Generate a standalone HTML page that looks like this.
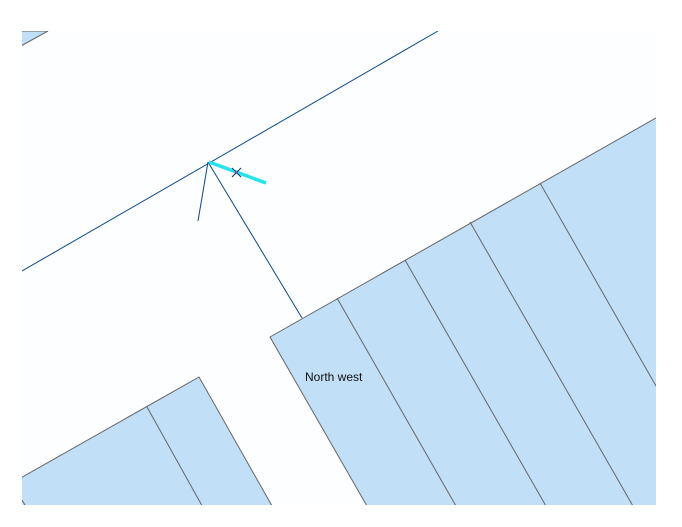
<!DOCTYPE html>
<html><head><meta charset="utf-8"><style>
html,body{margin:0;padding:0;background:#fff;width:682px;height:527px;overflow:hidden}
svg{display:block}
</style></head><body>
<svg width="682" height="527" viewBox="0 0 682 527" xmlns="http://www.w3.org/2000/svg">
<defs><clipPath id="c"><rect x="22" y="31" width="634" height="474"/></clipPath></defs>
<rect x="22" y="31" width="634" height="474" fill="#fdfeff"/>
<g clip-path="url(#c)" stroke="#666" stroke-width="1" fill="#c1dff7">
<polygon points="10,31 48,31 10,52"/>
<polygon points="270,337 670,110 670,520 375,520"/>
<line x1="337" y1="298" x2="464" y2="520"/>
<line x1="405" y1="260" x2="554" y2="520"/>
<line x1="470" y1="222" x2="641" y2="520"/>
<line x1="540" y1="183" x2="656" y2="386"/>
<polygon points="10,484 199,377 280,520 10,520"/>
<line x1="147" y1="407" x2="210" y2="520"/>
<line x1="22" y1="500" x2="25" y2="505"/>
</g>
<g clip-path="url(#c)" stroke="#0a4a8c" stroke-width="1" fill="none">
<line x1="22" y1="271" x2="438" y2="31"/>
<line x1="208" y1="162" x2="198" y2="221"/>
<line x1="208" y1="162" x2="302" y2="318"/>
</g>
<line x1="209" y1="162" x2="266" y2="183" stroke="#22e4ee" stroke-width="3.5"/>
<line x1="232" y1="168" x2="241" y2="177" stroke="#0a2a6c" stroke-width="1"/>
<line x1="241" y1="168" x2="232" y2="177" stroke="#0a2a6c" stroke-width="1"/>
<line x1="235" y1="171" x2="238" y2="174" stroke="#d02070" stroke-width="1"/>
<text x="305" y="381" font-family="Liberation Sans, sans-serif" font-size="12" fill="#111">North west</text>
</svg>
</body></html>
